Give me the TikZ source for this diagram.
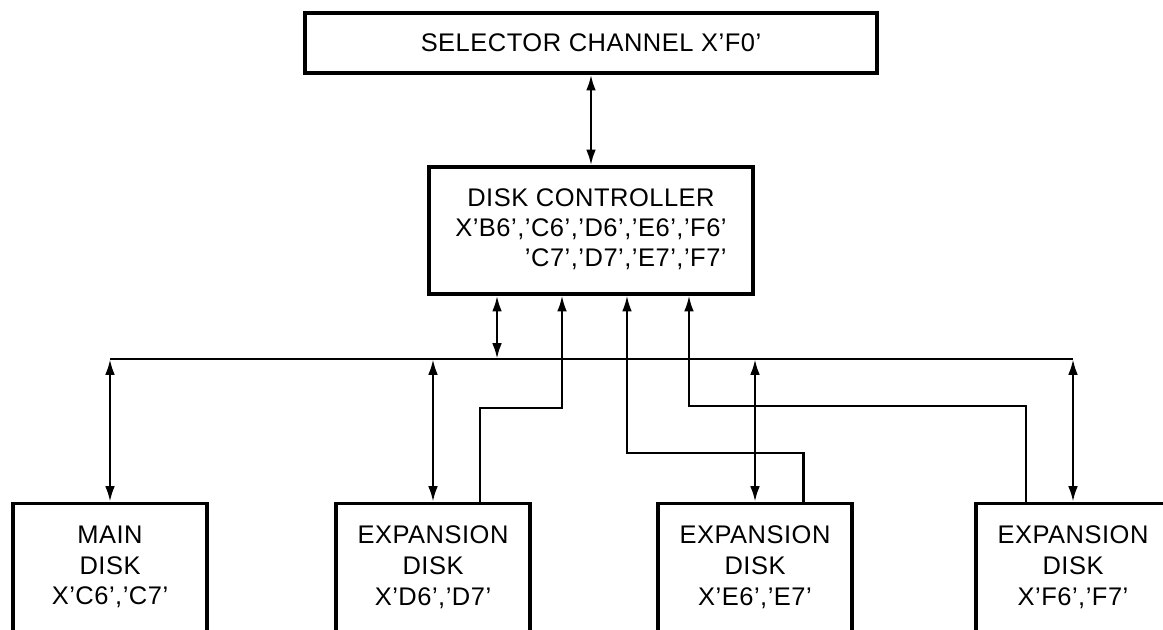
\documentclass[tikz,border=0pt]{standalone}
\usepackage{fontspec}
\setmainfont[LetterSpace=2]{Liberation Sans}
\usetikzlibrary{arrows.meta,positioning}
\tikzset{unit node/.style={rectangle, draw, line width=1.8pt,
    font=\fontsize{14.5}{17}\selectfont, inner sep=0pt}}
\tikzset{disk node/.style={unit node, anchor=north, minimum width=3.88cm,
    inner ysep=0.44cm, text depth=1cm, align=center, font=\fontsize{14.5}{17.6}\selectfont}}
\tikzset{regular edge/.style={line width=1.5pt, <->}}
\tikzset{return edge/.style={line width=1.3pt, ->}}
\tikzset{bus edge/.style={line width=0.9pt}}

\begin{document}
\begin{tikzpicture}
  [x=0.02cm, y=-0.02cm, >={Latex[length=9pt,width=5.5pt]}]
  \useasboundingbox (0,0) rectangle (1163,629);
  \clip (0,0) rectangle (1163,629);

  \node [unit node, minimum width=11.44cm, minimum height=1.2cm] (chan) at (591, 43) {SELECTOR CHANNEL X'F0'};
  \node [unit node, minimum width=6.48cm, minimum height=2.54cm] (ctrl) at (591, 230.5)
    {\begin{tabular}{@{}r@{}}
       \multicolumn{1}{@{}c@{}}{DISK CONTROLLER}\\
       X'B6','C6','D6','E6','F6'\\
       'C7','D7','E7','F7'
     \end{tabular}};
  \node [disk node] (disk1) at ( 110, 502) {MAIN\\DISK\\X'C6','C7'};
  \node [disk node] (disk2) at ( 433, 502) {EXPANSION\\DISK\\X'D6','D7'};
  \node [disk node] (disk3) at ( 755, 502) {EXPANSION\\DISK\\X'E6','E7'};
  \node [disk node] (disk4) at (1073, 502) {EXPANSION\\DISK\\X'F6','F7'};

  \coordinate (bus west) at ( 110, 359);
  \coordinate (bus east) at (1073, 359);

  \draw [regular edge] (chan) to (ctrl);
  \draw [bus edge]     (bus west) -- (bus east);
  \draw [regular edge] ([xshift=-1.88cm]ctrl.south) -- ([xshift=-1.88cm]ctrl.south |- bus west);
  \draw [regular edge] (disk1.north |- bus west) -- (disk1.north);
  \draw [regular edge] (disk2.north |- bus west) -- (disk2.north);
  \draw [regular edge] (disk3.north |- bus west) -- (disk3.north);
  \draw [regular edge] (disk4.north |- bus west) -- (disk4.north);

  \draw [return edge] ([xshift=0.94cm]disk2.north)  -- ++(0,-94) -| ([xshift=-0.58cm]ctrl.south);
  \draw [return edge] ([xshift=0.97cm]disk3.north)  -- ++(0,-49) -| ([xshift=0.72cm]ctrl.south);
  \draw [return edge] ([xshift=-0.94cm]disk4.north) -- ++(0,-96) -| ([xshift=1.96cm]ctrl.south);
\end{tikzpicture}
\end{document}
